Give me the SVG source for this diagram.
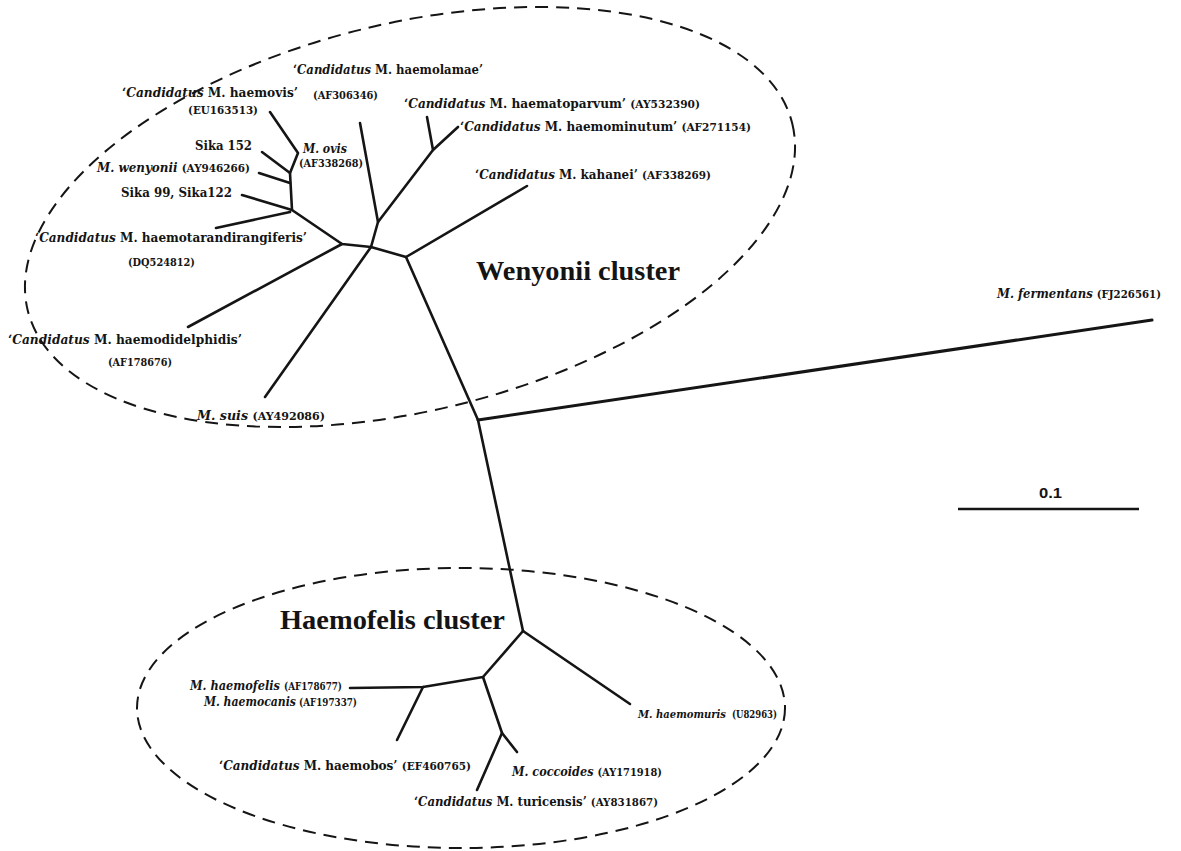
<svg xmlns="http://www.w3.org/2000/svg" width="1181" height="851" viewBox="0 0 1181 851">
<style>
.br{fill:none;stroke:#151515;stroke-width:2.6;stroke-linecap:round;stroke-linejoin:round}
.cl{fill:none;stroke:#151515;stroke-width:2;stroke-dasharray:13 8}
text{font-family:"DejaVu Serif","Liberation Serif",serif;font-weight:bold;font-size:12px;fill:#141414}
.i{font-style:italic}
.a{font-size:10.5px}
.t{font-family:"Liberation Serif","DejaVu Serif",serif;font-size:27px}
.s{font-family:"Liberation Sans",Arial,sans-serif;font-size:14px}
</style>
<rect width="1181" height="851" fill="#fff"/>
<g id="wenyonii-cluster">
<ellipse class="cl" cx="410" cy="217" rx="393.5" ry="193.7" transform="rotate(-13.7 410 217)"/>
<text class="t" x="476" y="280" textLength="204" lengthAdjust="spacingAndGlyphs">Wenyonii cluster</text>
</g>
<g id="haemofelis-cluster">
<ellipse class="cl" cx="461" cy="708" rx="324" ry="140"/>
<text class="t" x="280" y="629" textLength="225" lengthAdjust="spacingAndGlyphs">Haemofelis cluster</text>
</g>
<g id="connectors">
<path class="br" d="M270,112 L298,153 L290,173 L292,210 L342,244 L371,247 L406,257 L478,420 L523,631"/>
<path class="br" d="M262,152 L290,173"/>
<path class="br" d="M259,173 L290,183"/>
<path class="br" d="M242,195 L292,210"/>
<path class="br" d="M216,228 L290,212"/>
<path class="br" d="M188,327 L342,244"/>
<path class="br" d="M371,247 L378,222 L360,123"/>
<path class="br" d="M378,222 L433,150 L427,117"/>
<path class="br" d="M433,150 L458,127"/>
<path class="br" d="M371,247 L265,397"/>
<path class="br" d="M406,257 L527,186"/>
<path class="br" d="M478,420 L1152,320" style="stroke-width:3"/>
<path class="br" d="M523,631 L630,704"/>
<path class="br" d="M523,631 L483,677 L423,687 L350,688"/>
<path class="br" d="M423,687 L397,740"/>
<path class="br" d="M483,677 L502,733 L477,790"/>
<path class="br" d="M502,733 L517,752"/>
</g>
<g id="haemovis">
<text x="122" y="97" textLength="176" lengthAdjust="spacingAndGlyphs">‘<tspan class="i">Candidatus</tspan> M. haemovis’</text>
<text class="a" x="188" y="114" textLength="70" lengthAdjust="spacingAndGlyphs">(EU163513)</text>
</g>
<g id="haemolamae">
<text x="293" y="74" textLength="190" lengthAdjust="spacingAndGlyphs">‘<tspan class="i">Candidatus</tspan> M. haemolamae’</text>
<text class="a" x="313" y="99" textLength="65" lengthAdjust="spacingAndGlyphs">(AF306346)</text>
</g>
<g id="ovis">
<text class="i" x="303" y="153" textLength="44" lengthAdjust="spacingAndGlyphs">M. ovis</text>
<text class="a" x="299" y="167" textLength="64" lengthAdjust="spacingAndGlyphs">(AF338268)</text>
</g>
<g id="sika152">
<text x="195" y="150" textLength="57" lengthAdjust="spacingAndGlyphs">Sika 152</text>
</g>
<g id="wenyonii">
<text x="97" y="172" textLength="153" lengthAdjust="spacingAndGlyphs"><tspan class="i">M. wenyonii</tspan> <tspan class="a">(AY946266)</tspan></text>
</g>
<g id="sika99">
<text x="121" y="197" textLength="111" lengthAdjust="spacingAndGlyphs">Sika 99, Sika122</text>
</g>
<g id="haemotarandirangiferis">
<text x="35" y="242" textLength="272" lengthAdjust="spacingAndGlyphs">‘<tspan class="i">Candidatus</tspan> M. haemotarandirangiferis’</text>
<text class="a" x="128" y="266" textLength="67" lengthAdjust="spacingAndGlyphs">(DQ524812)</text>
</g>
<g id="haemodidelphidis">
<text x="8" y="344" textLength="234" lengthAdjust="spacingAndGlyphs">‘<tspan class="i">Candidatus</tspan> M. haemodidelphidis’</text>
<text class="a" x="108" y="366" textLength="64" lengthAdjust="spacingAndGlyphs">(AF178676)</text>
</g>
<g id="suis">
<text x="197" y="420" textLength="128" lengthAdjust="spacingAndGlyphs"><tspan class="i">M. suis</tspan> <tspan class="a">(AY492086)</tspan></text>
</g>
<g id="haematoparvum">
<text x="404" y="108" textLength="296" lengthAdjust="spacingAndGlyphs">‘<tspan class="i">Candidatus</tspan> M. haematoparvum’ <tspan class="a">(AY532390)</tspan></text>
</g>
<g id="haemominutum">
<text x="460" y="131" textLength="291" lengthAdjust="spacingAndGlyphs">‘<tspan class="i">Candidatus</tspan> M. haemominutum’ <tspan class="a">(AF271154)</tspan></text>
</g>
<g id="kahanei">
<text x="475" y="179" textLength="236" lengthAdjust="spacingAndGlyphs">‘<tspan class="i">Candidatus</tspan> M. kahanei’ <tspan class="a">(AF338269)</tspan></text>
</g>
<g id="fermentans">
<text x="997" y="298" textLength="164" lengthAdjust="spacingAndGlyphs"><tspan class="i">M. fermentans</tspan> <tspan class="a">(FJ226561)</tspan></text>
</g>
<g id="scale-bar">
<line x1="958" y1="509" x2="1139" y2="509" stroke="#151515" stroke-width="2.5"/>
<text class="s" x="1039" y="498" textLength="23" lengthAdjust="spacingAndGlyphs">0.1</text>
</g>
<g id="haemofelis">
<text class="i" x="190" y="690" textLength="90" lengthAdjust="spacingAndGlyphs">M. haemofelis</text>
<text class="a" x="284" y="690" textLength="58" lengthAdjust="spacingAndGlyphs">(AF178677)</text>
</g>
<g id="haemocanis">
<text class="i" x="204" y="706" textLength="92" lengthAdjust="spacingAndGlyphs">M. haemocanis</text>
<text class="a" x="299" y="706" textLength="58" lengthAdjust="spacingAndGlyphs">(AF197337)</text>
</g>
<g id="haemobos">
<text x="219" y="770" textLength="252" lengthAdjust="spacingAndGlyphs">‘<tspan class="i">Candidatus</tspan> M. haemobos’ <tspan class="a">(EF460765)</tspan></text>
</g>
<g id="coccoides">
<text x="512" y="776" textLength="150" lengthAdjust="spacingAndGlyphs"><tspan class="i">M. coccoides</tspan> <tspan class="a">(AY171918)</tspan></text>
</g>
<g id="turicensis">
<text x="414" y="806" textLength="244" lengthAdjust="spacingAndGlyphs">‘<tspan class="i">Candidatus</tspan> M. turicensis’ <tspan class="a">(AY831867)</tspan></text>
</g>
<g id="haemomuris">
<text class="i" x="638" y="718" style="font-size:11px" textLength="88" lengthAdjust="spacingAndGlyphs">M. haemomuris</text>
<text class="a" x="732" y="718" textLength="45" lengthAdjust="spacingAndGlyphs">(U82963)</text>
</g>
</svg>
